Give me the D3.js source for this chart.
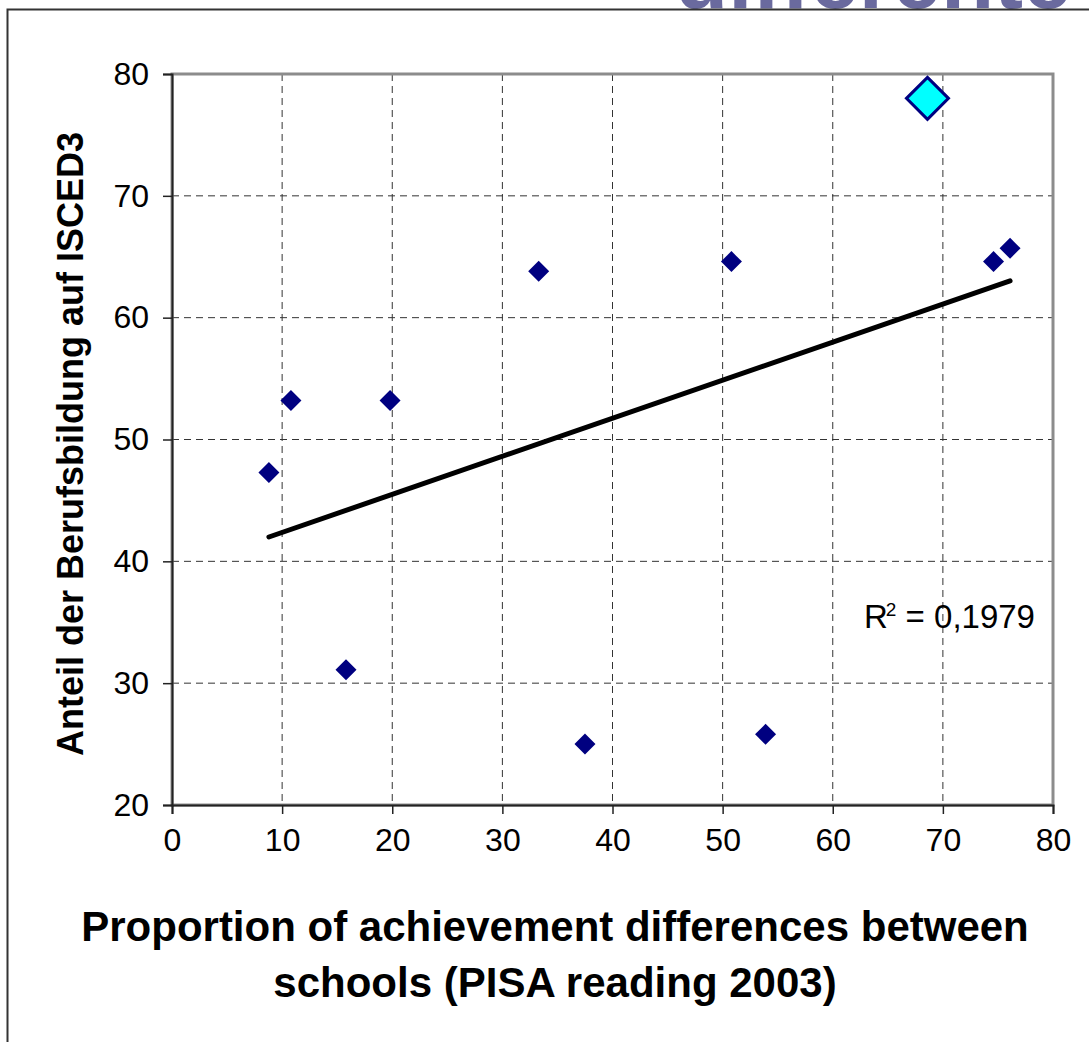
<!DOCTYPE html>
<html lang="en">
<head>
<meta charset="UTF-8">
<title>Berufsbildung vs PISA</title>
<style>
  body { margin: 0; background: #fff; }
  svg text { font-family: Arial, "Liberation Sans", Helvetica, sans-serif; }
</style>
</head>
<body>
<svg width="1089" height="1042"></svg>
<script src="https://d3js.org/d3.v7.min.js"></script>
<script>
// data
var schoolDiff = [8.8, 10.8, 15.8, 19.8, 33.3, 37.5, 50.8, 53.9, 74.6, 76.1];
var vocShare   = [47.3, 53.2, 31.1, 53.2, 63.8, 25.0, 64.6, 25.8, 64.6, 65.7];
var highlightX = [68.6];
var highlightY = [78.0];
var xTicks = [0, 10, 20, 30, 40, 50, 60, 70, 80];
var yTicks = [20, 30, 40, 50, 60, 70, 80];
var r2Label = "0,1979";

var margin = {left: 172, top: 74, right: 36, bottom: 237};
var svg = d3.select('svg');
var W = +svg.attr('width'), H = +svg.attr('height');
var w = W - margin.left - margin.right, h = H - margin.top - margin.bottom;

var x = d3.scaleLinear().domain([0, 80]).range([0, w]);
var y = d3.scaleLinear().domain([20, 80]).range([h, 0]);

// clipped heading text peeking in at the top, then outer frame
svg.append('clipPath').attr('id', 'topclip')
  .append('rect').attr('x', 0).attr('y', 0).attr('width', W).attr('height', 9);
svg.append('text')
  .attr('clip-path', 'url(#topclip)')
  .attr('x', 675).attr('y', 8)
  .attr('font-size', 87).attr('font-weight', 'bold')
  .attr('fill', '#6a6a9e')
  .text('differente');
svg.append('path')
  .attr('d', `M7.5,${H} V9.5 H${W}`)
  .attr('fill', 'none').attr('stroke', '#333').attr('stroke-width', 2);

var g = svg.append('g').attr('transform', `translate(${margin.left},${margin.top})`);

// grid
g.selectAll('.vgrid').data(xTicks.slice(1, -1)).enter().append('line')
  .attr('x1', d => x(d)).attr('x2', d => x(d)).attr('y1', 0).attr('y2', h)
  .attr('stroke', '#333').attr('stroke-dasharray', '7,5').attr('stroke-width', 1);
g.selectAll('.hgrid').data(yTicks.slice(1, -1)).enter().append('line')
  .attr('y1', d => y(d)).attr('y2', d => y(d)).attr('x1', 0).attr('x2', w)
  .attr('stroke', '#333').attr('stroke-dasharray', '7,5').attr('stroke-width', 1);

// plot border
g.append('rect').attr('width', w).attr('height', h)
  .attr('fill', 'none').attr('stroke', '#8c8c8c').attr('stroke-width', 3);

// axes
var xAxis = d3.axisBottom(x).tickValues(xTicks).tickSize(9).tickPadding(14);
var yAxis = d3.axisLeft(y).tickValues(yTicks).tickSize(9).tickPadding(14);
var gx = g.append('g').attr('transform', `translate(0,${h})`).call(xAxis);
var gy = g.append('g').call(yAxis);
[gx, gy].forEach(a => {
  a.select('.domain').attr('stroke', '#222').attr('stroke-width', 2);
  a.selectAll('.tick line').attr('stroke', '#222').attr('stroke-width', 1.5);
  a.selectAll('.tick text').attr('font-size', 32).attr('fill', '#000')
    .style('font-family', 'Arial, "Liberation Sans", sans-serif');
});
gx.selectAll('.tick text').attr('dy', '0.71em');

// trend line (least squares over all points)
var allX = schoolDiff.concat(highlightX), allY = vocShare.concat(highlightY);
var mx = d3.mean(allX), my = d3.mean(allY);
var slope = d3.sum(allX, (v, i) => (v - mx) * (allY[i] - my)) / d3.sum(allX, v => (v - mx) * (v - mx));
var icpt = my - slope * mx;
var ext = d3.extent(allX);
g.append('line')
  .attr('x1', x(ext[0])).attr('y1', y(icpt + slope * ext[0]))
  .attr('x2', x(ext[1])).attr('y2', y(icpt + slope * ext[1]))
  .attr('stroke', '#000').attr('stroke-width', 5).attr('stroke-linecap', 'round');

function diamond(r) { return `M0,${-r}L${r},0L0,${r}L${-r},0Z`; }

g.selectAll('.pt').data(schoolDiff).enter().append('path')
  .attr('d', diamond(10.5))
  .attr('transform', (d, i) => `translate(${x(d)},${y(vocShare[i])})`)
  .attr('fill', '#000080');

g.selectAll('.hl').data(highlightX).enter().append('path')
  .attr('d', diamond(21))
  .attr('transform', (d, i) => `translate(${x(d)},${y(highlightY[i])})`)
  .attr('fill', '#00ffff').attr('stroke', '#000080').attr('stroke-width', 3);

// R² label
var rt = svg.append('text').attr('x', 864).attr('y', 628).attr('font-size', 33).attr('fill', '#000');
rt.append('tspan').text('R');
rt.append('tspan').attr('font-size', 19).attr('dy', -12).attr('dx', -2).text('2');
rt.append('tspan').attr('dy', 12).text(' = ' + r2Label);

// axis titles
svg.append('text')
  .attr('transform', 'translate(83,444) rotate(-90)')
  .attr('text-anchor', 'middle').attr('font-size', 36).attr('font-weight', 'bold')
  .text('Anteil der Berufsbildung auf ISCED3');
var xt = svg.append('text').attr('text-anchor', 'middle')
  .attr('font-size', 42).attr('font-weight', 'bold');
xt.append('tspan').attr('x', 555).attr('y', 941).text('Proportion of achievement differences between');
xt.append('tspan').attr('x', 555).attr('y', 997).text('schools (PISA reading 2003)');
</script>
</body>
</html>
